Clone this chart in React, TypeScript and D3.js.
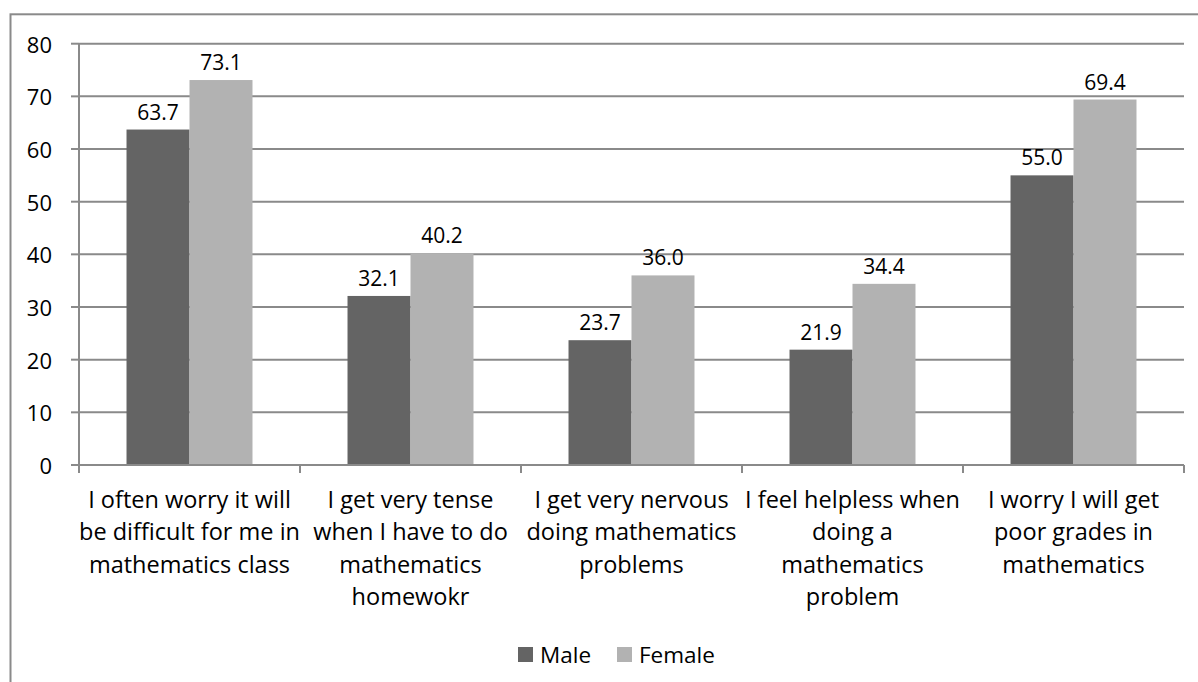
import React from "react";
import * as d3 from "d3";

const categories: string[][] = [
  ["I often worry it will", "be difficult for me in", "mathematics class"],
  ["I get very tense", "when I have to do", "mathematics", "homewokr"],
  ["I get very nervous", "doing mathematics", "problems"],
  ["I feel helpless when", "doing a", "mathematics", "problem"],
  ["I worry I will get", "poor grades in", "mathematics"],
];
const seriesNames = ["Male", "Female"];
const maleValues = [63.7, 32.1, 23.7, 21.9, 55.0];
const femaleValues = [73.1, 40.2, 36.0, 34.4, 69.4];
const yTicks = [0, 10, 20, 30, 40, 50, 60, 70, 80];
const colors = ["#646464", "#b2b2b2"];

const W = 1198;
const H = 682;
const FONT = "'Open Sans', 'Noto Sans', sans-serif";

export default function App() {
  const plotLeft = 79;
  const plotRight = 1184;
  const plotTop = 43.7;
  const plotBottom = 465;

  const idx = categories.map((_, i) => String(i));
  const x = d3
    .scaleBand<string>()
    .domain(idx)
    .range([plotLeft, plotRight])
    .paddingInner(0.43)
    .paddingOuter(0.215);
  const xs = d3.scaleBand<string>().domain(seriesNames).range([0, x.bandwidth()]).padding(0);
  const y = d3.scaleLinear().domain([0, 80]).range([plotBottom, plotTop]);
  const step = (plotRight - plotLeft) / categories.length;
  const series = [maleValues, femaleValues];
  const gridColor = "#8a8a8a";

  return (
    <svg
      width={W}
      height={H}
      style={{ position: "absolute", left: 0, top: 0, background: "#fff" }}
      fontFamily={FONT}
    >
      <rect x={10.5} y={14.3} width={1200} height={700} fill="#fff" stroke={gridColor} strokeWidth={2} />
      {/* gridlines */}
      {yTicks.map((t) => (
        <g key={t}>
          {t > 0 && (
            <line x1={plotLeft} x2={plotRight} y1={y(t)} y2={y(t)} stroke={gridColor} strokeWidth={2} />
          )}
          <line x1={plotLeft - 8} x2={plotLeft} y1={y(t)} y2={y(t)} stroke={gridColor} strokeWidth={2} />
          <text x={52} y={y(t)} textAnchor="end" dominantBaseline="central" fontSize={22} fill="#000">
            {t}
          </text>
        </g>
      ))}
      {/* bars */}
      {series.map((vals, si) =>
        vals.map((v, ci) => (
          <rect
            key={`${si}-${ci}`}
            x={(x(String(ci)) as number) + (xs(seriesNames[si]) as number)}
            y={y(v)}
            width={xs.bandwidth()}
            height={plotBottom - y(v)}
            fill={colors[si]}
          />
        ))
      )}
      {/* value labels */}
      {series.map((vals, si) =>
        vals.map((v, ci) => (
          <text
            key={`l${si}-${ci}`}
            x={(x(String(ci)) as number) + (xs(seriesNames[si]) as number) + xs.bandwidth() / 2}
            y={y(v) - 10}
            textAnchor="middle"
            fontSize={21}
            fill="#000"
          >
            {v.toFixed(1)}
          </text>
        ))
      )}
      {/* axes */}
      <line x1={plotLeft} x2={plotLeft} y1={plotTop} y2={plotBottom} stroke={gridColor} strokeWidth={2} />
      <line x1={plotLeft} x2={plotRight} y1={plotBottom} y2={plotBottom} stroke={gridColor} strokeWidth={2} />
      {d3.range(categories.length + 1).map((i) => (
        <line
          key={`xt${i}`}
          x1={plotLeft + i * step}
          x2={plotLeft + i * step}
          y1={plotBottom}
          y2={plotBottom + 8}
          stroke={gridColor}
          strokeWidth={2}
        />
      ))}
      {/* category labels */}
      {categories.map((lines, ci) => (
        <text
          key={`c${ci}`}
          x={(x(String(ci)) as number) + x.bandwidth() / 2}
          y={508}
          textAnchor="middle"
          fontSize={23.5}
          fill="#000"
        >
          {lines.map((ln, li) => (
            <tspan key={li} x={(x(String(ci)) as number) + x.bandwidth() / 2} dy={li === 0 ? 0 : 32.3}>
              {ln}
            </tspan>
          ))}
        </text>
      ))}
      {/* legend */}
      {seriesNames.map((name, si) => {
        const lx = si === 0 ? 518 : 617;
        return (
          <g key={name}>
            <rect x={lx} y={647} width={15} height={15} fill={colors[si]} />
            <text x={lx + 22} y={654.5} dominantBaseline="central" fontSize={22.5} fill="#000">
              {name}
            </text>
          </g>
        );
      })}
    </svg>
  );
}
